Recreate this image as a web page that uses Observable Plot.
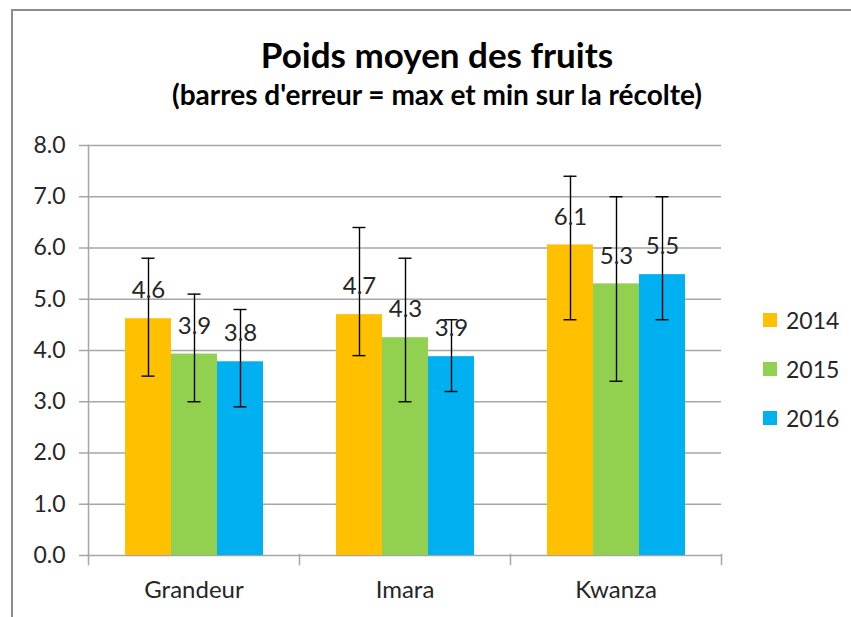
<!DOCTYPE html>
<html>
<head>
<meta charset="utf-8">
<script src="https://cdn.jsdelivr.net/npm/d3@7"></script>
<script src="https://cdn.jsdelivr.net/npm/@observablehq/plot@0.6"></script>
<style>
  html, body { margin: 0; padding: 0; background: #fff; }
  #wrap { position: relative; width: 851px; height: 617px; overflow: hidden; font-family: Lato, "Open Sans", sans-serif; color: #262626; }
  #border { position: absolute; left: 11px; top: 9px; width: 900px; height: 700px; border-left: 2px solid #8c8c8c; border-top: 2px solid #8c8c8c; }
  #title { position: absolute; left: 0; width: 874px; top: 33px; text-align: center; font-weight: bold; font-size: 35px; line-height: 42px; color: #000; }
  #subtitle { position: absolute; left: 0; width: 874px; top: 77px; text-align: center; font-weight: bold; font-size: 28px; line-height: 34px; color: #000; }
  #chart { position: absolute; left: 0; top: 0; }
  #legend { position: absolute; left: 763px; top: 295px; font-size: 23px; color: #262626; }
  .item { display: flex; align-items: center; height: 49px; }
  .sw { width: 14px; height: 14px; margin-right: 9px; }
</style>
</head>
<body>
<div id="wrap">
  <div id="border"></div>
  <div id="chart"></div>
  <div id="title">Poids moyen des fruits</div>
  <div id="subtitle">(barres d'erreur = max et min sur la récolte)</div>
  <div id="legend"></div>
</div>
<script>
const categories = ["Grandeur", "Imara", "Kwanza"];
const years = ["2014", "2015", "2016"];
const colors = ["#FFC000", "#92D050", "#00B0F0"];
const mean2014 = [4.62, 4.70, 6.06];
const mean2015 = [3.93, 4.25, 5.30];
const mean2016 = [3.78, 3.88, 5.48];
const max2014 = [5.8, 6.4, 7.4];
const min2014 = [3.5, 3.9, 4.6];
const max2015 = [5.1, 5.8, 7.0];
const min2015 = [3.0, 3.0, 3.4];
const max2016 = [4.8, 4.6, 7.0];
const min2016 = [2.9, 3.2, 4.6];
const yTicks = [0, 1, 2, 3, 4, 5, 6, 7, 8];

const means = [mean2014, mean2015, mean2016];
const maxs = [max2014, max2015, max2016];
const mins = [min2014, min2015, min2016];
const rows = [];
categories.forEach((c, i) => {
  years.forEach((y, j) => {
    rows.push({cat: c, year: y, value: means[j][i], max: maxs[j][i], min: mins[j][i]});
  });
});

const axisColor = "#a6a6a6";
const chart = Plot.plot({
  width: 851,
  height: 617,
  marginLeft: 88,
  marginRight: 130,
  marginTop: 145,
  marginBottom: 62,
  style: {fontFamily: "Lato, 'Open Sans', sans-serif", fontSize: "22px", background: "transparent", color: "#262626"},
  fx: {domain: categories, padding: 0, label: null},
  x: {domain: years, paddingInner: 0, paddingOuter: 0.745, axis: null},
  y: {domain: [0, 8], axis: null},
  color: {domain: years, range: colors},
  marks: [
    Plot.ruleY(yTicks, {stroke: axisColor, strokeWidth: 1.5}),
    Plot.frame({anchor: "left", facetAnchor: "left", stroke: axisColor, strokeWidth: 1.5, strokeOpacity: 1}),
    Plot.frame({anchor: "left", insetTop: 409, insetBottom: -9, stroke: axisColor, strokeWidth: 1.5, strokeOpacity: 1}),
    Plot.frame({anchor: "right", facetAnchor: "right", insetTop: 409, insetBottom: -9, stroke: axisColor, strokeWidth: 1.5, strokeOpacity: 1}),
    Plot.axisY({ticks: yTicks, tickFormat: d => d.toFixed(1), tickSize: 9, tickPadding: 14, stroke: axisColor, strokeWidth: 1.5, fill: "#262626", fontSize: 23, label: null}),
    Plot.axisFx({anchor: "bottom", tickSize: 0, tickPadding: 25, fill: "#262626", fontSize: 24, label: null}),
    Plot.barY(rows, {fx: "cat", x: "year", y: "value", fill: "year"}),
    Plot.ruleX(rows, {fx: "cat", x: "year", y1: "min", y2: "max", stroke: "#000", strokeWidth: 1.4}),
    Plot.tickY(rows, {fx: "cat", x: "year", y: "max", stroke: "#000", strokeWidth: 1.4, insetLeft: 16.5, insetRight: 16.5}),
    Plot.tickY(rows, {fx: "cat", x: "year", y: "min", stroke: "#000", strokeWidth: 1.4, insetLeft: 16.5, insetRight: 16.5}),
    Plot.text(rows, {fx: "cat", x: "year", y: "value", text: d => d.value.toFixed(1), dy: -28, fill: "#262626", fontSize: 24})
  ]
});
document.getElementById("chart").appendChild(chart);

const legend = document.getElementById("legend");
years.forEach((y, j) => {
  const item = document.createElement("div");
  item.className = "item";
  const sw = document.createElement("div");
  sw.className = "sw";
  sw.style.background = colors[j];
  const t = document.createElement("span");
  t.textContent = y;
  item.appendChild(sw);
  item.appendChild(t);
  legend.appendChild(item);
});
</script>
</body>
</html>
